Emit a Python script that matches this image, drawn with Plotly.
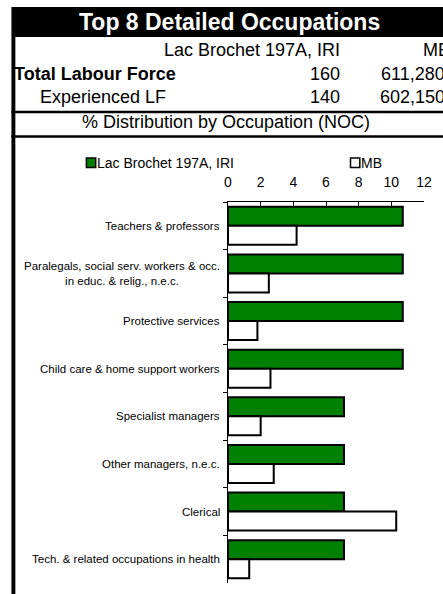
import plotly.graph_objects as go

# ---- data ----
categories = [
    "Teachers & professors",
    "Paralegals, social serv. workers & occ.<br>in educ. & relig., n.e.c.",
    "Protective services",
    "Child care & home support workers",
    "Specialist managers",
    "Other managers, n.e.c.",
    "Clerical",
    "Tech. & related occupations in health",
]
series_names = ["Lac Brochet 197A, IRI", "MB"]
lac_brochet = [10.7, 10.7, 10.7, 10.7, 7.1, 7.1, 7.1, 7.1]
mb = [4.2, 2.5, 1.8, 2.6, 2.0, 2.8, 10.3, 1.3]
x_ticks = [0, 2, 4, 6, 8, 10, 12]

title_text = "Top 8 Detailed Occupations"
row_labels = ["Total Labour Force", "Experienced LF"]
lac_counts = ["160", "140"]
mb_counts = ["611,280", "602,150"]
subtitle = "% Distribution by Occupation (NOC)"

W, H = 443, 594
L, R, T, B = 228, 15, 202, 11
PW, PH = W - L - R, H - T - B


def px(x):
    return (x - L) / PW


def py(y):
    return (H - B - y) / PH


FONT = "Liberation Sans, Arial, sans-serif"

fig = go.Figure()
fig.add_trace(go.Bar(
    y=categories, x=lac_brochet, orientation="h", name=series_names[0],
    marker=dict(color="#008000", line=dict(color="black", width=2)),
))
fig.add_trace(go.Bar(
    y=categories, x=mb, orientation="h", name=series_names[1],
    marker=dict(color="#FFFFFF", line=dict(color="black", width=2)),
))

shapes = []


def rect(x0, y0, x1, y1, color="black"):
    shapes.append(dict(type="rect", xref="paper", yref="paper",
                       x0=px(x0), x1=px(x1), y0=py(y1), y1=py(y0),
                       fillcolor=color, line=dict(width=0), layer="above"))


rect(7, 7, 450, 37)           # title band
rect(7, 37, 11, 600)          # left border
rect(7, 110.7, 450, 113.3)    # line under header
rect(7, 135.2, 450, 137.8)    # line under subtitle

# legend squares
shapes.append(dict(type="rect", xref="paper", yref="paper",
                   x0=px(83.5), x1=px(93), y0=py(167.5), y1=py(158),
                   fillcolor="#008000", line=dict(color="black", width=1.5)))
shapes.append(dict(type="rect", xref="paper", yref="paper",
                   x0=px(353), x1=px(362.5), y0=py(167.5), y1=py(158),
                   fillcolor="white", line=dict(color="black", width=1.5)))

ann = []


def text(x, y, s, size, anchor="left", bold=False, color="black"):
    ann.append(dict(xref="paper", yref="paper", x=px(x), y=py(y),
                    text=("<b>%s</b>" % s) if bold else s, showarrow=False,
                    xanchor=anchor, yanchor="middle",
                    font=dict(family=FONT, size=size, color=color)))


text(230, 22, title_text, 23, "center", bold=True, color="white")
text(344, 50, series_names[0], 18, "right")
text(425, 50, series_names[1], 18, "left")
for i, yy in enumerate([74, 97.5]):
    if i == 0:
        text(8, yy, row_labels[i], 18, "left", bold=True)
    else:
        text(34, yy, row_labels[i], 18, "left")
    text(344, yy, lac_counts[i], 18, "right")
    text(451, yy, mb_counts[i], 18, "right")
text(226, 122, subtitle, 18, "center")

# legend texts
text(92.5, 163, series_names[0], 14, "left")
text(362, 163, series_names[1], 14, "left")

# category labels
for c in categories:
    ann.append(dict(xref="paper", yref="y", x=0, y=c, text=c, showarrow=False,
                    xanchor="right", yanchor="middle", xshift=-6, align="center",
                    font=dict(family=FONT, size=11.5, color="black")))

fig.update_layout(
    width=W, height=H,
    margin=dict(l=L, r=R, t=T, b=B, pad=0),
    paper_bgcolor="white", plot_bgcolor="white",
    barmode="group", bargap=0.2, bargroupgap=0,
    showlegend=False,
    font=dict(family=FONT, color="black"),
    shapes=shapes, annotations=ann,
    xaxis=dict(side="top", range=[0, 12], tickvals=x_ticks,
               ticks="inside", ticklen=4, tickcolor="black",
               showline=True, linecolor="black", linewidth=1,
               showgrid=False, zeroline=False,
               tickfont=dict(family=FONT, size=14, color="black"),
               ticklabelstandoff=8),
    yaxis=dict(type="category", categoryarray=categories,
               autorange="reversed", showticklabels=False,
               ticks="outside", tickson="boundaries", ticklen=4,
               tickcolor="black", showline=True, linecolor="black",
               linewidth=1, showgrid=False, zeroline=False),
)

fig.write_html(
    "out.html",
    config={"displayModeBar": False},
    post_script="document.body.style.margin='0';document.body.style.overflow='hidden';",
)
